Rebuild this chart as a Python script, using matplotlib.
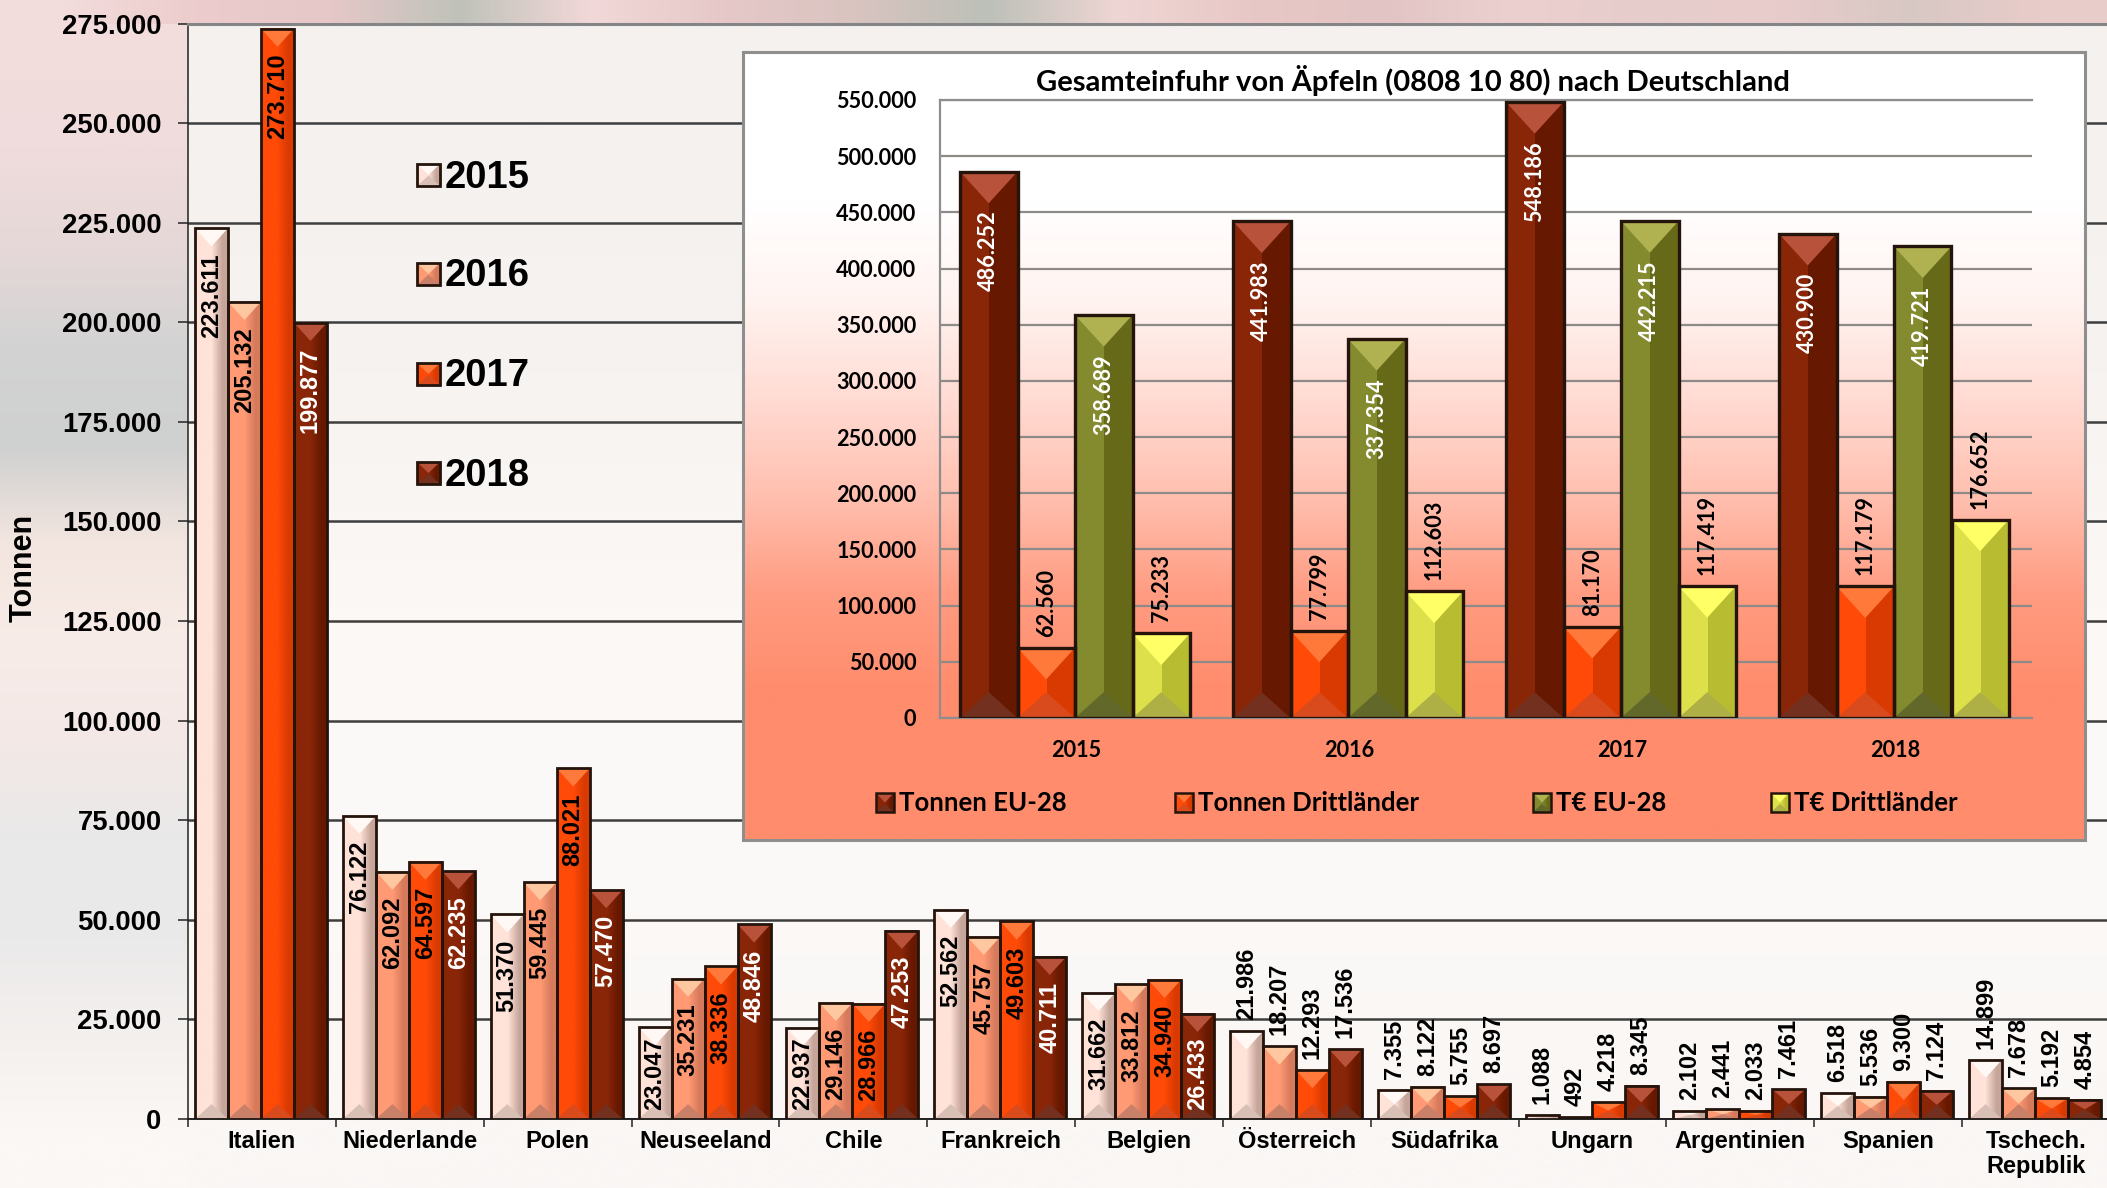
import numpy as np
import matplotlib
matplotlib.use('Agg')
import matplotlib.pyplot as plt
from matplotlib.colors import to_rgb
from matplotlib.patches import Polygon, Rectangle

W, H = 2107, 1188

# main chart data
laender = ['Italien', 'Niederlande', 'Polen', 'Neuseeland', 'Chile', 'Frankreich', 'Belgien',
           'Österreich', 'Südafrika', 'Ungarn', 'Argentinien', 'Spanien', 'Tschech.\nRepublik']
jahre = ['2015', '2016', '2017', '2018']
werte_2015 = [223611, 76122, 51370, 23047, 22937, 52562, 31662, 21986, 7355, 1088, 2102, 6518, 14899]
werte_2016 = [205132, 62092, 59445, 35231, 29146, 45757, 33812, 18207, 8122, 492, 2441, 5536, 7678]
werte_2017 = [273710, 64597, 88021, 38336, 28966, 49603, 34940, 12293, 5755, 4218, 2033, 9300, 5192]
werte_2018 = [199877, 62235, 57470, 48846, 47253, 40711, 26433, 17536, 8697, 8345, 7461, 7124, 4854]
y_ticks = [0, 25000, 50000, 75000, 100000, 125000, 150000, 175000, 200000, 225000, 250000, 275000]

# inset data
inset_titel = 'Gesamteinfuhr von Äpfeln (0808 10 80) nach Deutschland'
inset_jahre = ['2015', '2016', '2017', '2018']
inset_namen = ['Tonnen EU-28', 'Tonnen Drittländer', 'T€ EU-28', 'T€ Drittländer']
tonnen_eu = [486252, 441983, 548186, 430900]
tonnen_dritt = [62560, 77799, 81170, 117179]
teuro_eu = [358689, 337354, 442215, 419721]
teuro_dritt = [75233, 112603, 117419, 176652]
inset_ticks = list(range(0, 550001, 50000))

# colours: top, left, right, bottom
HELL = ('#fff8f4', '#ffe2d8', '#c6a59a', '#d9c0b6')
LACHS = ('#ffc79f', '#ff9a74', '#d67a5c', '#c98068')
ORANGE = ('#ff7a3a', '#ff4a08', '#d83a02', '#d94a1c')
ROT = ('#b8523a', '#8a2608', '#661800', '#74301e')
OLIV = ('#b0b252', '#848a2e', '#666a18', '#62682a')
GELB = ('#ffff66', '#dde04a', '#b8bc30', '#aeb046')
RAHMEN = '#24140c'


def fmt(v):
    return f'{v:,}'.replace(',', '.')


def bevel_bar(ax, x0, x1, y0, y1, farben, px_x, px_y, lw=2.2, tiefe=0.55, z=3, hart=False):
    # px_x / px_y = data units per pixel
    top, links, rechts, unten = farben
    breite = (x1 - x0) / px_x
    hoehe = (y1 - y0) / px_y
    d_top = min(breite * tiefe, hoehe / 2) * px_y
    d_bot = min(breite * 0.45, hoehe / 2) * px_y
    xm = (x0 + x1) / 2
    if hart:
        grad = np.array([[to_rgb(links), to_rgb(rechts)]])
        ax.imshow(grad, extent=[x0, x1, y0, y1], aspect='auto', interpolation='nearest', zorder=z)
    else:
        grad = np.array([[to_rgb(links), to_rgb(links), to_rgb(rechts)]])
        ax.imshow(grad, extent=[x0, x1, y0, y1], aspect='auto', interpolation='bilinear', zorder=z)
    ax.add_patch(Polygon([(x0, y1), (x1, y1), (xm, y1 - d_top)], fc=top, ec='none', zorder=z + 0.1))
    ax.add_patch(Polygon([(x0, y0), (x1, y0), (xm, y0 + d_bot)], fc=unten, ec='none', zorder=z + 0.1))
    ax.add_patch(Rectangle((x0, y0), x1 - x0, y1 - y0, fc='none', ec=RAHMEN, lw=lw, zorder=z + 0.2))


fig = plt.figure(figsize=(W / 100, H / 100), dpi=100)


def add_ax(x0, y_top, x1, y_bot, **kw):
    return fig.add_axes([x0 / W, 1 - y_bot / H, (x1 - x0) / W, (y_bot - y_top) / H], **kw)


# background, blurred photo look
bg = add_ax(0, 0, W, H, zorder=0)
bg.axis('off')
bg.set_xlim(0, W)
bg.set_ylim(H, 0)
links_stops = ['#f3dcdc', '#f0dcdc', '#e6d8d8', '#d3d3d3', '#cfd0d0', '#f3e6e0', '#f8ece8', '#f3e8e6',
               '#e9e9e9', '#ebeaea', '#f4f0ee', '#fbf8f5']
links_rgb = np.array([[to_rgb(c)] for c in links_stops])
bg.imshow(links_rgb, extent=[0, 188, 1188, 0], aspect='auto', interpolation='bilinear')
oben_stops = ['#f3dcdc', '#eccccc', '#e6c8c8', '#bfc2ba', '#f2d8d8', '#e6c8c8', '#d9c4c0', '#bcc0b8', '#eed6d4',
              '#e8c8c6', '#e2c4c4', '#ecd0d0', '#e6cccb', '#e8cccc', '#d8c8c4', '#e8ccca']
oben_rgb = np.array([[to_rgb(c) for c in oben_stops]])
bg.imshow(oben_rgb, extent=[0, W, 24, 0], aspect='auto', interpolation='bilinear')
flaeche = np.array([[to_rgb('#f5f1ef')], [to_rgb('#f6f3f1')], [to_rgb('#fbf8f6')], [to_rgb('#fcfaf8')], [to_rgb('#faf7f5')]])
bg.imshow(flaeche, extent=[188, W, 1188, 24], aspect='auto', interpolation='bilinear')
bg.set_xlim(0, W)
bg.set_ylim(H, 0)

# main chart
ax = add_ax(188, 23.5, 2110, 1119, zorder=1)
ax.patch.set_alpha(0)
ax.set_xlim(0, 13)
ax.set_ylim(0, 275000)
ax.set_axisbelow(True)
ax.yaxis.grid(True, color='#3e3e3e', lw=1.8)
ax.xaxis.grid(False)
px_x = 13 / 1922
px_y = 275000 / 1095.5

serien = [werte_2015, werte_2016, werte_2017, werte_2018]
farben_main = [HELL, LACHS, ORANGE, ROT]
bw = 33 * px_x
rand = 7 * px_x
for s, (werte, farbe) in enumerate(zip(serien, farben_main)):
    for i, v in enumerate(werte):
        x0 = i + rand + s * bw
        bevel_bar(ax, x0, x0 + bw, 0, v, farbe, px_x, px_y, lw=2.0)
        hoehe = v / px_y
        xm = x0 + bw / 2
        if v >= 22500:
            off = min(25, hoehe - 82)
            ax.annotate(fmt(v), (xm, v), xytext=(0, -off * 0.72), textcoords='offset points', rotation=90,
                        ha='center', va='top', fontsize=17, family='Liberation Sans', weight='bold',
                        color='white' if s == 3 else 'black', zorder=6)
        else:
            ax.annotate(fmt(v), (xm, v), xytext=(0, 11 * 0.72), textcoords='offset points', rotation=90,
                        ha='center', va='bottom', fontsize=17, family='Liberation Sans', weight='bold',
                        color='black', zorder=6)

ax.set_yticks(y_ticks)
ax.set_yticklabels([fmt(t) for t in y_ticks], family='Liberation Sans', weight='bold', fontsize=19.8)
ax.set_xticks(range(14))
ax.set_xticklabels([])
ax.tick_params(axis='y', length=7, width=1.1, color='#222222', pad=12)
ax.tick_params(axis='x', length=6, width=1.1, color='#222222')
for sp in ['right']:
    ax.spines[sp].set_visible(False)
ax.spines['left'].set_color('#222222')
ax.spines['left'].set_linewidth(1.1)
ax.spines['bottom'].set_color('#222222')
ax.spines['bottom'].set_linewidth(1.4)
ax.spines['top'].set_color('#858585')
ax.spines['top'].set_linewidth(2.2)
for i, name in enumerate(laender):
    ax.annotate(name, (i + 0.5, 0), xytext=(0, -(1130 - 1119) * 0.72), textcoords='offset points',
                ha='center', va='top', family='Liberation Sans', weight='bold', fontsize=17, linespacing=1.12,
                annotation_clip=False)
ax.set_xlim(0, 13)
ax.set_ylim(0, 275000)

# inset panel
panel = add_ax(743, 52, 2085, 840, zorder=2)
panel.axis('off')
panel_farben = ['#ffffff', '#ffffff', '#fff4f1', '#ffdcd4', '#ffc0b0', '#ff9c82', '#ff8c6c', '#ff8c6c']
panel_rgb = np.array([[to_rgb(c)] for c in panel_farben])
panel.imshow(panel_rgb, extent=[0, 1, 0, 1], aspect='auto', interpolation='bilinear')
panel.set_xlim(0, 1)
panel.set_ylim(0, 1)
fig.add_artist(Rectangle((743 / W, 1 - 840 / H), (2085 - 743) / W, (840 - 52) / H, fc='none', ec='#8e8e8e',
                         lw=2.2, transform=fig.transFigure, zorder=2.5))

# inset chart
ix = add_ax(940, 100, 2032, 718, zorder=3)
ix.patch.set_alpha(0)
ix.set_xlim(0, 4)
ix.set_ylim(0, 550000)
ix.set_axisbelow(True)
ix.yaxis.grid(True, color='#8e8a88', lw=1.6)
ix.xaxis.grid(False)
ipx_x = 4 / 1092
ipx_y = 550000 / 618
ibw = 57.5 * ipx_x
irand = 20 * ipx_x
iserien = [tonnen_eu, tonnen_dritt, teuro_eu, teuro_dritt]
ifarben = [ROT, ORANGE, OLIV, GELB]
for s, (werte, farbe) in enumerate(zip(iserien, ifarben)):
    for i, v in enumerate(werte):
        x0 = i + irand + s * ibw
        bevel_bar(ix, x0, x0 + ibw, 0, v, farbe, ipx_x, ipx_y, lw=2.4, hart=True)
        xm = x0 + ibw / 2
        if v >= 200000:
            ix.annotate(fmt(v), (xm, v), xytext=(0, -39 * 0.72), textcoords='offset points', rotation=90,
                        ha='center', va='top', fontsize=15.6, family='Lato', weight='bold', color='white', zorder=6)
        else:
            ix.annotate(fmt(v), (xm, v), xytext=(0, 11 * 0.72), textcoords='offset points', rotation=90,
                        ha='center', va='bottom', fontsize=15.6, family='Lato', weight='bold', color='black', zorder=6)
ix.set_yticks(inset_ticks)
ix.set_yticklabels([fmt(t) for t in inset_ticks], family='Lato', weight='bold', fontsize=15.6)
ix.set_xticks([i + 0.5 for i in range(4)])
ix.set_xticklabels(inset_jahre, family='Lato', weight='bold', fontsize=15.6)
ix.tick_params(axis='y', length=0, pad=17)
ix.tick_params(axis='x', length=0, pad=15.5)
ix.spines['right'].set_visible(False)
for sp in ['left', 'bottom', 'top']:
    ix.spines[sp].set_color('#8e8e8e')
    ix.spines[sp].set_linewidth(1.6)
ix.set_xlim(0, 4)
ix.set_ylim(0, 550000)

# texts and legends in pixel coordinates
ov = add_ax(0, 0, W, H, zorder=4)
ov.axis('off')
ov.patch.set_alpha(0)
ov.set_xlim(0, W)
ov.set_ylim(0, H)


def txt(x, y, s, **kw):
    ov.text(x, H - y, s, **kw)


txt(24, 568, 'Tonnen', rotation=90, ha='center', va='center', family='Liberation Sans', weight='bold', fontsize=22)
txt(1413, 80, inset_titel, ha='center', va='center', family='Lato', weight='bold', fontsize=21)

for jahr, farbe, yc in zip(jahre, farben_main, [175, 274, 374, 473]):
    bevel_bar(ov, 417, 440, H - yc - 11, H - yc + 11, farbe, 1, 1, lw=2.0)
    txt(445, yc + 2.5, jahr, ha='left', va='center', family='Liberation Sans', weight='bold', fontsize=27.5)

for name, farbe, xq in zip(inset_namen, ifarben, [876, 1175, 1533, 1771]):
    bevel_bar(ov, xq, xq + 18, H - 812, H - 793, farbe, 1, 1, lw=1.8)
    txt(xq + 23, 803, name, ha='left', va='center', family='Lato', weight='bold', fontsize=18.5)

ov.set_xlim(0, W)
ov.set_ylim(0, H)

fig.savefig('out.png', dpi=100)
